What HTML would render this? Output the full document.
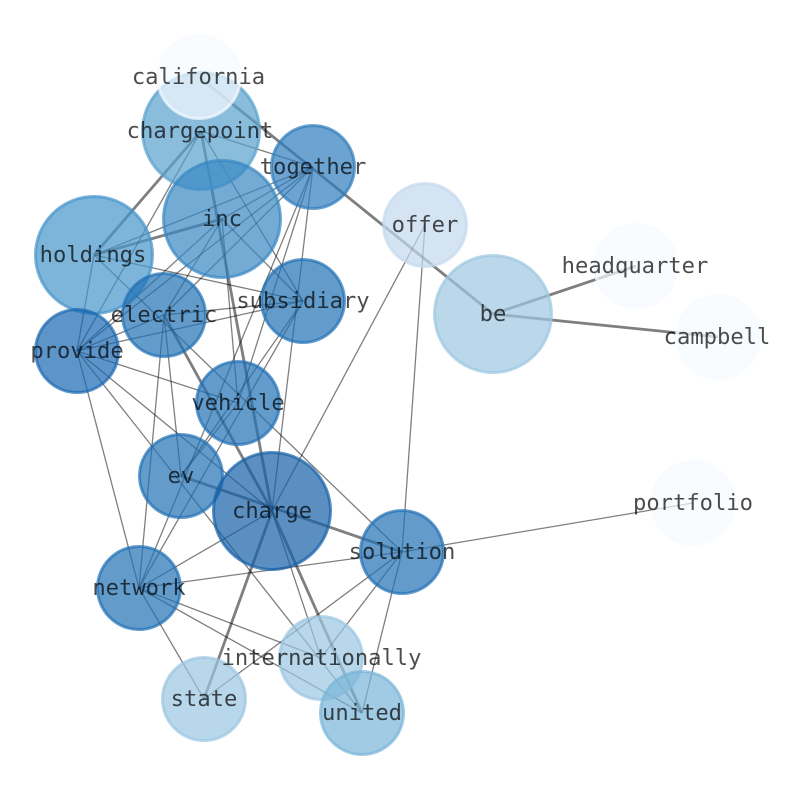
<!DOCTYPE html>
<html><head><meta charset="utf-8"><style>
html,body{margin:0;padding:0;background:#fff}
svg{display:block}
text{font-family:"DejaVu Sans Mono","Liberation Mono",monospace;font-size:22.15px;text-anchor:middle;fill:#000;fill-opacity:.7}
.t{stroke:#000;stroke-opacity:.5;stroke-width:1.3;fill:none}
.k{stroke:#000;stroke-opacity:.5;stroke-width:2.8;fill:none}
circle{stroke-width:3;fill-opacity:.7;stroke-opacity:.7}
</style></head><body>
<svg width="794" height="790" viewBox="0 0 794 790" xmlns="http://www.w3.org/2000/svg">
<g class="t">
<path d="M201 131L313 167M201 131L77 351M201 131L303 301"/>
<path d="M222 219L313 167M222 219L77 351M222 219L303 301M222 219L238 403M222 219L164 315"/>
<path d="M94 255L313 167M94 255L303 301M94 255L77 351M94 255L402 552"/>
<path d="M313 167L164 315M313 167L77 351M313 167L272 511M313 167L238 403M313 167L139 588"/>
<path d="M303 301L164 315M303 301L77 351M303 301L181 476M303 301L139 588"/>
<path d="M164 315L77 351M164 315L181 476M164 315L139 588"/>
<path d="M77 351L238 403M77 351L139 588M77 351L272 511M77 351L362 713"/>
<path d="M238 403L181 476M272 511L139 588M272 511L321 658M272 511L425 225"/>
<path d="M402 552L139 588M402 552L204 699M402 552L321 658M402 552L362 713M402 552L693 503M402 552L425 225"/>
<path d="M139 588L204 699M139 588L321 658M139 588L362 713"/>
</g>
<g class="k">
<path d="M199 77L493 314M493 314L636 266M493 314L718 337"/>
<path d="M201 131L94 255M222 219L94 255M201 131L272 511M164 315L272 511"/>
<path d="M181 476L402 552M272 511L204 699M272 511L362 713"/>
</g>
<circle cx="201" cy="131" r="58.5" fill="#59a1cd" stroke="#59a1cd"/>
<circle cx="222" cy="219" r="58.5" fill="#3888c3" stroke="#3888c3"/>
<circle cx="94" cy="255" r="58.5" fill="#4594ca" stroke="#4594ca"/>
<circle cx="313" cy="167" r="41.5" fill="#2d7cbc" stroke="#2d7cbc"/>
<circle cx="199" cy="77" r="41.5" fill="#f7fbff" stroke="#f7fbff"/>
<circle cx="425" cy="225" r="41.5" fill="#c3d8ee" stroke="#c3d8ee"/>
<circle cx="636" cy="266" r="41.5" fill="#f7fbff" stroke="#f7fbff"/>
<circle cx="303" cy="301" r="41.5" fill="#2171b5" stroke="#2171b5"/>
<circle cx="164" cy="315" r="41.5" fill="#2171b5" stroke="#2171b5"/>
<circle cx="493" cy="314" r="58.5" fill="#9dc7e1" stroke="#9dc7e1"/>
<circle cx="718" cy="337" r="41.5" fill="#f7fbff" stroke="#f7fbff"/>
<circle cx="77" cy="351" r="41.5" fill="#1a68b0" stroke="#1a68b0"/>
<circle cx="238" cy="403" r="41.5" fill="#2171b5" stroke="#2171b5"/>
<circle cx="181" cy="476" r="41.5" fill="#2171b5" stroke="#2171b5"/>
<circle cx="272" cy="511" r="58.5" fill="#155fa8" stroke="#155fa8"/>
<circle cx="693" cy="503" r="41.5" fill="#f7fbff" stroke="#f7fbff"/>
<circle cx="402" cy="552" r="41.5" fill="#2171b5" stroke="#2171b5"/>
<circle cx="139" cy="588" r="41.5" fill="#2171b5" stroke="#2171b5"/>
<circle cx="321" cy="658" r="41.5" fill="#9bc6e1" stroke="#9bc6e1"/>
<circle cx="204" cy="699" r="41.5" fill="#9bc6e1" stroke="#9bc6e1"/>
<circle cx="362" cy="713" r="41.5" fill="#79b5d9" stroke="#79b5d9"/>
<text x="198.5" y="84">california</text>
<text x="200" y="138">chargepoint</text>
<text x="313" y="174">together</text>
<text x="222" y="226">inc</text>
<text x="425" y="232">offer</text>
<text x="93" y="262">holdings</text>
<text x="635" y="273">headquarter</text>
<text x="303" y="308">subsidiary</text>
<text x="164" y="322">electric</text>
<text x="493" y="321">be</text>
<text x="717" y="344">campbell</text>
<text x="77" y="358">provide</text>
<text x="238" y="410">vehicle</text>
<text x="181" y="483">ev</text>
<text x="272" y="518">charge</text>
<text x="693" y="510">portfolio</text>
<text x="402" y="559">solution</text>
<text x="139" y="595">network</text>
<text x="321.5" y="665">internationally</text>
<text x="204" y="706">state</text>
<text x="362" y="720">united</text>
</svg>
</body></html>
